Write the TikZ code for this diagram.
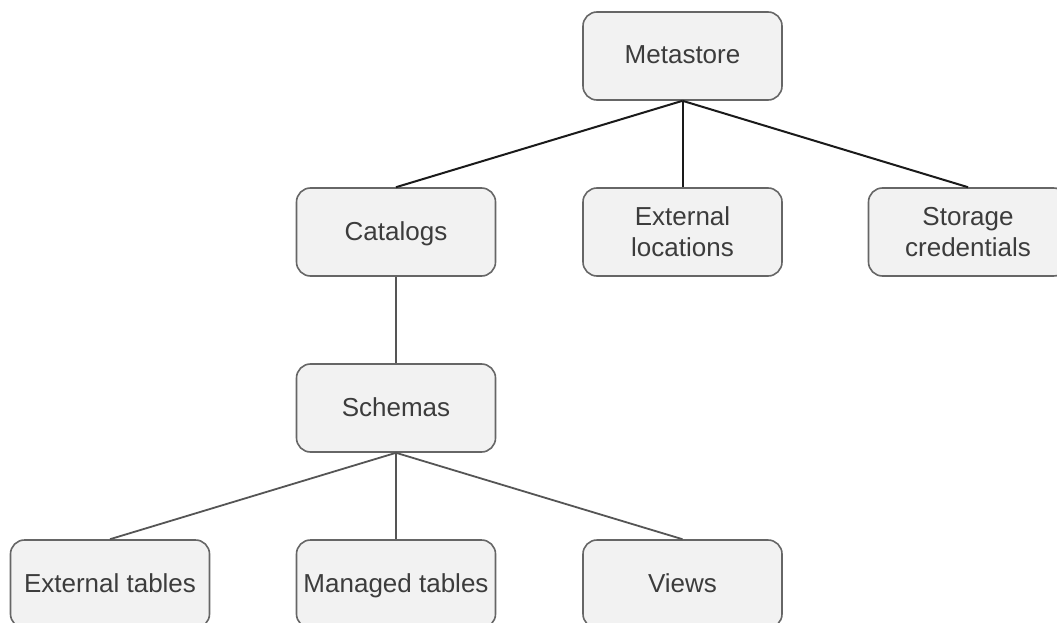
\documentclass[tikz,border=0pt]{standalone}
\usepackage{fontspec}
\setmainfont{Liberation Sans}
\definecolor{boxfill}{HTML}{F2F2F2}
\definecolor{boxline}{HTML}{666666}
\definecolor{labeltext}{HTML}{3C3C3C}
\definecolor{darklink}{HTML}{1A1A1A}
\definecolor{greylink}{HTML}{555555}
\begin{document}
\begin{tikzpicture}[x=1pt,y=-1pt,
  entity/.style={draw=boxline, fill=boxfill, line width=1.6pt, rounded corners=14pt,
    minimum width=199pt, minimum height=88pt, inner sep=0pt, align=center,
    text=labeltext, font=\fontsize{26}{31}\selectfont},
  oneline/.style={text height=19pt, text depth=3pt},
  toplink/.style={draw=darklink, line width=2pt},
  lowlink/.style={draw=greylink, line width=1.8pt}]
\useasboundingbox (0,0) rectangle (1057,623);
\clip (0,0) rectangle (1057,623);
\fill[white] (0,0) rectangle (1057,623);

% upper level
\node[entity,oneline] (meta) at (682.5,56) {Metastore};
\node[entity,oneline] (cat)  at (396,232) {Catalogs};
\node[entity] (loc)  at (682.5,232) {External\\locations};
\node[entity] (cred) at (968,232) {Storage\\credentials};

% lower level
\node[entity,oneline] (sch)  at (396,408) {Schemas};
\node[entity,oneline] (ext)  at (110,584) {External tables};
\node[entity,oneline] (man)  at (396,584) {Managed tables};
\node[entity,oneline] (view) at (682.5,584) {Views};

% links
\draw[toplink] (meta.south) -- (cat.north);
\draw[toplink] (meta.south) -- (loc.north);
\draw[toplink] (meta.south) -- (cred.north);
\draw[lowlink] (cat.south) -- (sch.north);
\draw[lowlink] (sch.south) -- (ext.north);
\draw[lowlink] (sch.south) -- (man.north);
\draw[lowlink] (sch.south) -- (view.north);
\end{tikzpicture}
\end{document}
